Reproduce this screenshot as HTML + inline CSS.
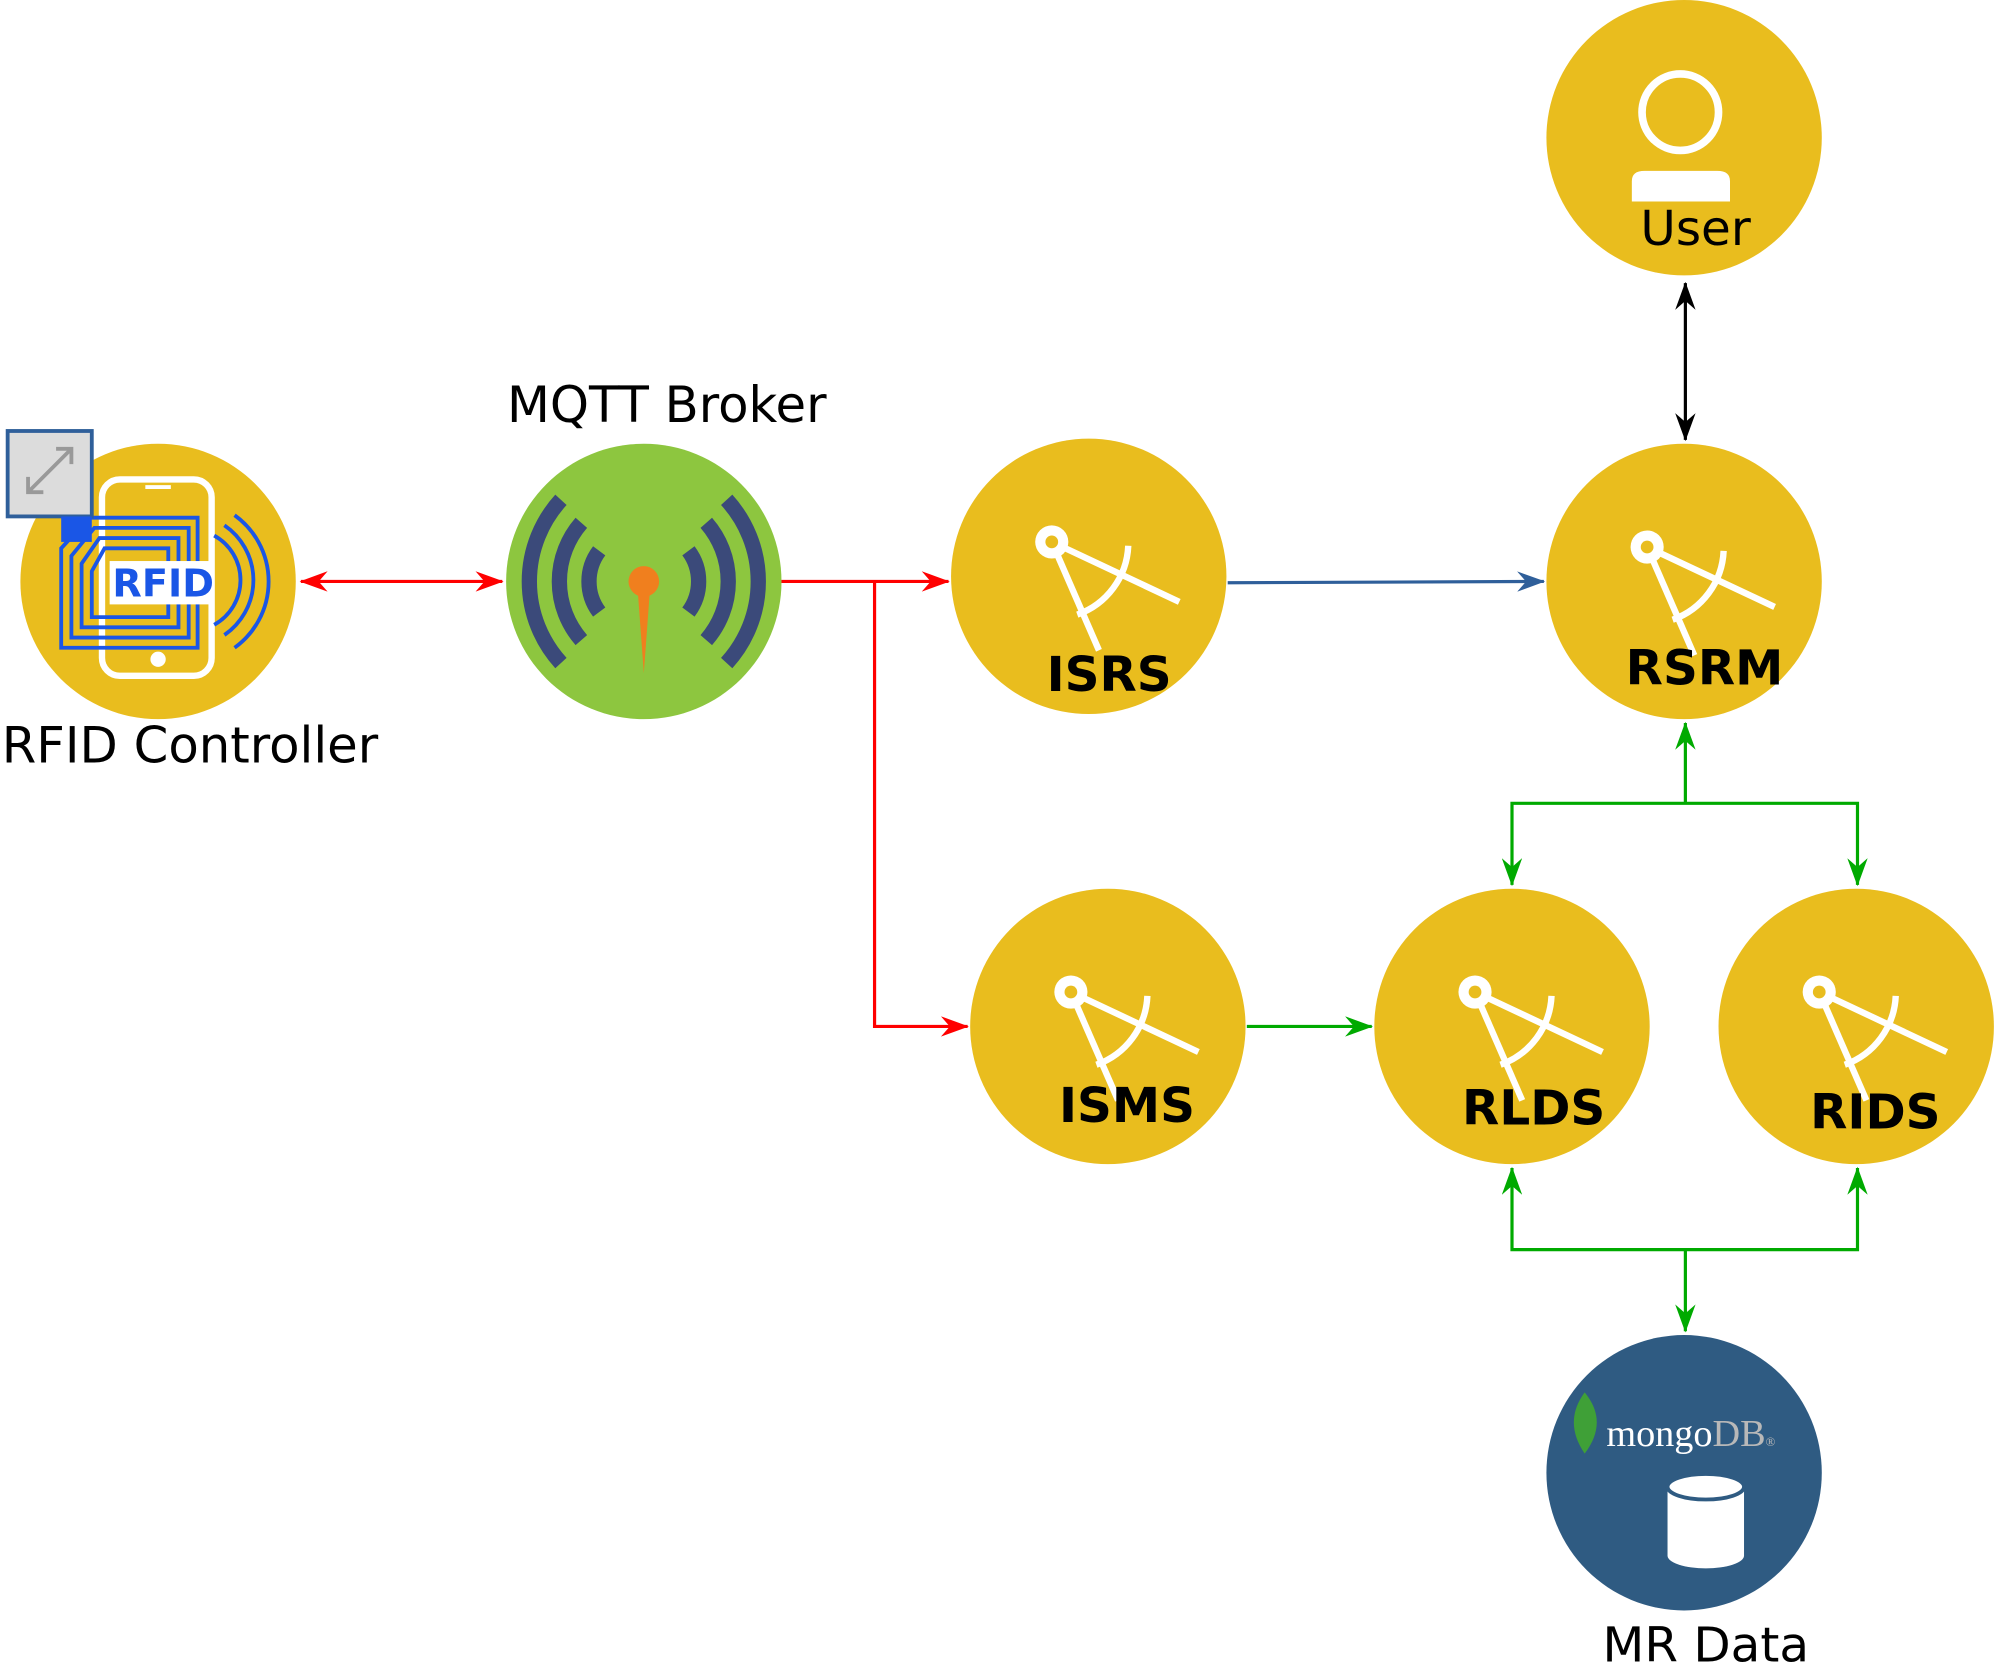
<!DOCTYPE html>
<html><head><meta charset="utf-8"><style>
html,body{margin:0;padding:0;background:#fff;}
svg{display:block;}
text{font-family:"DejaVu Sans","Liberation Sans",sans-serif;}
</style></head><body>
<svg width="1999" height="1664" viewBox="0 0 1568 1305" preserveAspectRatio="none" xmlns="http://www.w3.org/2000/svg">
<defs>
<marker id="ar" viewBox="0 0 22 16" refX="21" refY="8" markerWidth="22" markerHeight="16" markerUnits="userSpaceOnUse" orient="auto-start-reverse"><path d="M0,0 L22,8 L0,16 L7,8 Z" fill="#f00"/></marker>
<marker id="ab" viewBox="0 0 22 16" refX="21" refY="8" markerWidth="22" markerHeight="16" markerUnits="userSpaceOnUse" orient="auto-start-reverse"><path d="M0,0 L22,8 L0,16 L7,8 Z" fill="#2f5f9a"/></marker>
<marker id="ag" viewBox="0 0 22 16" refX="21" refY="8" markerWidth="22" markerHeight="16" markerUnits="userSpaceOnUse" orient="auto-start-reverse"><path d="M0,0 L22,8 L0,16 L7,8 Z" fill="#0a0"/></marker>
<marker id="akk" viewBox="0 0 22 16" refX="21" refY="8" markerWidth="22" markerHeight="16" markerUnits="userSpaceOnUse" orient="auto-start-reverse"><path d="M0,0 L22,8 L0,16 L7,8 Z" fill="#000"/></marker>
<g id="comp" stroke="#fff" fill="none" stroke-width="5">
<path d="M-29,-27 L8,58"/>
<path d="M-29,-27 L71,20"/>
<path d="M31,-24 A60,60 0 0 1 -9,30"/>
<circle cx="-29" cy="-27" r="13" fill="#fff" stroke="none"/>
<circle cx="-29" cy="-27" r="5" fill="#e9bd1e" stroke="none"/>
</g>
</defs>

<line x1="236" y1="456" x2="394" y2="456" stroke="#f00" stroke-width="2.5" marker-start="url(#ar)" marker-end="url(#ar)"/>
<polyline points="613,456 744,456" fill="none" stroke="#f00" stroke-width="2.5" marker-end="url(#ar)"/>
<polyline points="686,456 686,805 759,805" fill="none" stroke="#f00" stroke-width="2.5" marker-end="url(#ar)"/>
<line x1="963" y1="457" x2="1211" y2="456" stroke="#2f5f9a" stroke-width="2.5" marker-end="url(#ab)"/>
<line x1="1322" y1="222" x2="1322" y2="345" stroke="#000" stroke-width="2.5" marker-start="url(#akk)" marker-end="url(#akk)"/>
<line x1="1322" y1="630" x2="1322" y2="567" stroke="#0a0" stroke-width="2.5" marker-end="url(#ag)"/>
<polyline points="1186,694 1186,630 1457,630 1457,694" fill="none" stroke="#0a0" stroke-width="2.5" marker-start="url(#ag)" marker-end="url(#ag)"/>
<line x1="978" y1="805" x2="1076" y2="805" stroke="#0a0" stroke-width="2.5" marker-end="url(#ag)"/>
<polyline points="1186,916 1186,980 1457,980 1457,916" fill="none" stroke="#0a0" stroke-width="2.5" marker-start="url(#ag)" marker-end="url(#ag)"/>
<line x1="1322" y1="980" x2="1322" y2="1044" stroke="#0a0" stroke-width="2.5" marker-end="url(#ag)"/>

<circle cx="124" cy="456" r="108" fill="#e9bd1e"/>
<rect x="80" y="376" width="86" height="154" rx="14" fill="none" stroke="#fff" stroke-width="5"/>
<line x1="114" y1="382" x2="134" y2="382" stroke="#fff" stroke-width="3"/>
<circle cx="124" cy="517" r="6" fill="#fff"/>
<g fill="none" stroke="#1a56e6" stroke-width="3">
<path d="M48,430 L70,406 L155,406 L155,508 L48,508 Z"/>
<path d="M56,436 L74,414 L148,414 L148,500 L56,500 Z"/>
<path d="M64,442 L78,422 L140,422 L140,492 L64,492 Z"/>
<path d="M72,448 L82,430 L132,430 L132,484 L72,484 Z"/>
<path d="M168,420 A40,40 0 0 1 168,490"/>
<path d="M176,412 A52,52 0 0 1 176,498"/>
<path d="M184,404 A64,64 0 0 1 184,508"/>
</g>
<rect x="86" y="440" width="80" height="34" fill="#fff"/>
<text x="128" y="468" font-size="30" font-weight="bold" fill="#1a56e6" text-anchor="middle">RFID</text>
<rect x="6" y="338" width="66" height="67" fill="#dcdcdc" stroke="#2f5f9a" stroke-width="3"/>
<rect x="48" y="405" width="24" height="20" fill="#1a56e6"/>
<path d="M22,386 L56,352 M44,352 L56,352 L56,364 M22,374 L22,386 L34,386" fill="none" stroke="#999" stroke-width="3"/>
<text x="149" y="598" font-size="39" text-anchor="middle" fill="#000">RFID Controller</text>

<circle cx="505" cy="456" r="108" fill="#8dc63f"/>
<g fill="none" stroke="#3b4a7a" stroke-width="12" stroke-linecap="butt">
<path d="M470,432 A40,40 0 0 0 470,480"/>
<path d="M456,410 A70,70 0 0 0 456,502"/>
<path d="M440,392 A95,95 0 0 0 440,520"/>
<path d="M540,432 A40,40 0 0 1 540,480"/>
<path d="M554,410 A70,70 0 0 1 554,502"/>
<path d="M570,392 A95,95 0 0 1 570,520"/>
</g>
<path d="M500,460 L510,460 L505,528 Z" fill="#f07f1e"/>
<circle cx="505" cy="456" r="12" fill="#f07f1e"/>
<text x="523" y="331" font-size="39" text-anchor="middle" fill="#000">MQTT Broker</text>

<circle cx="854" cy="452" r="108" fill="#e9bd1e"/>
<use href="#comp" x="854" y="452"/>
<text x="870" y="542" font-size="38" font-weight="bold" text-anchor="middle" fill="#000">ISRS</text>

<circle cx="1321" cy="456" r="108" fill="#e9bd1e"/>
<use href="#comp" x="1321" y="456"/>
<text x="1337" y="537" font-size="38" font-weight="bold" text-anchor="middle" fill="#000">RSRM</text>

<circle cx="1321" cy="108" r="108" fill="#e9bd1e"/>
<circle cx="1318" cy="88" r="30" fill="none" stroke="#fff" stroke-width="6"/>
<path d="M1280,158 L1280,142 Q1280,134 1290,134 L1347,134 Q1357,134 1357,142 L1357,158 Z" fill="#fff"/>
<text x="1330" y="192" font-size="38" text-anchor="middle" fill="#000">User</text>

<circle cx="869" cy="805" r="108" fill="#e9bd1e"/>
<use href="#comp" x="869" y="805"/>
<text x="884" y="880" font-size="38" font-weight="bold" text-anchor="middle" fill="#000">ISMS</text>

<circle cx="1186" cy="805" r="108" fill="#e9bd1e"/>
<use href="#comp" x="1186" y="805"/>
<text x="1203" y="882" font-size="38" font-weight="bold" text-anchor="middle" fill="#000">RLDS</text>

<circle cx="1456" cy="805" r="108" fill="#e9bd1e"/>
<use href="#comp" x="1456" y="805"/>
<text x="1471" y="885" font-size="38" font-weight="bold" text-anchor="middle" fill="#000">RIDS</text>

<circle cx="1321" cy="1155" r="108" fill="#2f5b82"/>
<path d="M1243,1092 Q1262,1115 1243,1140 Q1226,1115 1243,1092 Z" fill="#3fa037"/>
<text x="1260" y="1134" font-size="30" style="font-family:'Liberation Serif',serif" fill="#fff">mongo<tspan fill="#b8b8b8">DB</tspan><tspan font-size="10" fill="#b8b8b8">®</tspan></text>
<path d="M1308,1166 L1308,1220 A30,10 0 0 0 1368,1220 L1368,1166 Z" fill="#fff"/>
<ellipse cx="1338" cy="1166" rx="30" ry="10" fill="#fff" stroke="#2f5b82" stroke-width="3"/>
<text x="1338" y="1303" font-size="38" text-anchor="middle" fill="#000">MR Data</text>
</svg>
</body></html>
